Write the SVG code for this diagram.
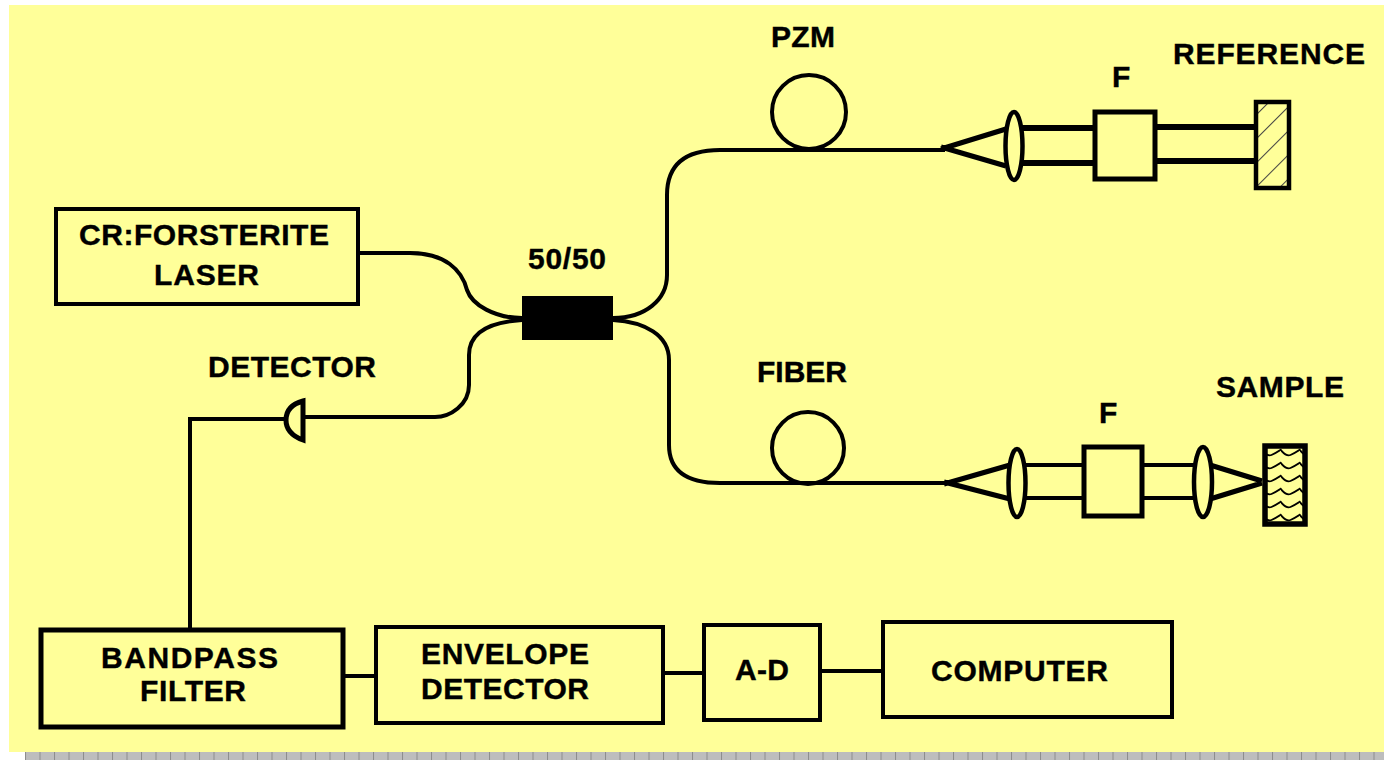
<svg xmlns="http://www.w3.org/2000/svg" width="1384" height="760" viewBox="0 0 1384 760">
<style>
.t{font-family:"Liberation Sans",Arial,sans-serif;font-weight:700;font-size:30px;fill:#000;stroke:#000;stroke-width:.4}
.b{fill:none;stroke:#000;stroke-width:4}
.h{fill:none;stroke:#000;stroke-width:5}
.f{fill:none;stroke:#000;stroke-width:4}
.k{fill:#ffff99;stroke:#000;stroke-width:4.5}
</style>
<defs>
<pattern id="ticks" x="25" y="752" width="14.5" height="8" patternUnits="userSpaceOnUse"><rect width="14.5" height="8" fill="#bdbdbd"/><rect x="0" width="1" height="8" fill="#8c8c8c"/></pattern>
<pattern id="hatch" width="17" height="17" patternUnits="userSpaceOnUse" patternTransform="rotate(-45)"><rect width="17" height="17" fill="#ffff99"/><rect x="0" width="17" height="1" fill="#444"/></pattern>
<pattern id="wave" x="1262" y="446" width="19" height="13" patternUnits="userSpaceOnUse"><rect width="19" height="13" fill="#ffff99"/><path d="M-1 3Q5 11 9.5 9Q14 7 20 3" fill="none" stroke="#000" stroke-width="1.8"/></pattern>
</defs>
<rect width="1384" height="760" fill="#fff"/>
<rect x="9" y="5" width="1375" height="747" fill="#ffff99"/>
<rect x="25" y="752" width="1359" height="8" fill="url(#ticks)"/>
<g id="connectors">
<path class="f" d="M358 253H410C445 253 462 270 467 290C472 305 495 318 522 318"/>
<path class="f" d="M522 320C490 322 469 332 469 355V385C469 405 450 417 435 417H303"/>
<path class="f" d="M285 419H190V630"/>
<path class="f" d="M613 318C645 318 667 300 667 275V195C667 165 685 150 720 150H945"/>
<path class="f" d="M613 320C645 322 669 335 669 360V445C669 470 685 483 720 483H948"/>
<path class="f" d="M343 676H376M663 673H704M820 671H883"/>
</g>
<g id="laser"><rect class="b" x="56" y="209" width="302" height="95"/><text class="t" x="79" y="245" textLength="250">CR:FORSTERITE</text><text class="t" x="154" y="285" textLength="105">LASER</text></g>
<g id="coupler"><rect x="522" y="296" width="91" height="44" fill="#000"/><text class="t" x="528" y="269" textLength="78">50/50</text></g>
<g id="detector"><path class="h" d="M303 401V440C292 436 286 430 286 420C286 410 292 404 303 401Z"/><text class="t" x="208" y="377" textLength="168">DETECTOR</text></g>
<g id="pzm"><circle class="b" cx="809" cy="112" r="37"/><text class="t" x="771" y="47" textLength="64">PZM</text></g>
<g id="fiber"><circle class="b" cx="808" cy="448" r="36"/><text class="t" x="757" y="382" textLength="90">FIBER</text></g>
<g id="reference-arm">
<path class="f" d="M941 149L1006 129M941 147L1006 166" style="stroke-width:5"/>
<path class="h" d="M1022 128H1095M1022 163H1095M1155 127H1255M1155 161H1255" style="stroke-width:6"/>
<ellipse class="k" cx="1014" cy="146" rx="8.5" ry="34"/>
<rect class="h" x="1095" y="112" width="60" height="67" style="fill:#ffff99"/>
<text class="t" x="1112" y="87" textLength="16">F</text>
</g>
<g id="reference"><rect x="1256" y="102" width="33" height="86" style="fill:url(#hatch)" stroke="#000" stroke-width="4.5"/><text class="t" x="1173" y="64" textLength="192">REFERENCE</text></g>
<g id="sample-arm">
<path class="f" d="M944 484L1010 465M944 482L1010 499M1210 465L1262 481M1210 499L1262 483" style="stroke-width:5"/>
<path class="f" d="M1025 465H1084M1025 498H1084M1141 465H1196M1141 498H1196"/>
<ellipse class="k" cx="1017" cy="483" rx="8.5" ry="34"/>
<ellipse class="k" cx="1203" cy="482" rx="9" ry="35"/>
<rect class="h" x="1084" y="447" width="58" height="69" style="fill:#ffff99"/>
<text class="t" x="1099" y="423" textLength="16">F</text>
</g>
<g id="sample"><rect x="1265" y="446" width="40" height="78" style="fill:url(#wave)" stroke="#000" stroke-width="5.5"/><text class="t" x="1216" y="397" textLength="128">SAMPLE</text></g>
<g id="bandpass"><rect class="h" x="41" y="630" width="302" height="97"/><text class="t" x="101" y="668" textLength="177">BANDPASS</text><text class="t" x="140" y="701" textLength="106">FILTER</text></g>
<g id="envelope"><rect class="b" x="376" y="627" width="287" height="96"/><text class="t" x="421" y="664" textLength="168">ENVELOPE</text><text class="t" x="421" y="699" textLength="168">DETECTOR</text></g>
<g id="ad"><rect class="b" x="704" y="625" width="116" height="95"/><text class="t" x="735" y="680" textLength="54">A-D</text></g>
<g id="computer"><rect class="b" x="883" y="622" width="289" height="95"/><text class="t" x="931" y="681" textLength="177">COMPUTER</text></g>
</svg>
